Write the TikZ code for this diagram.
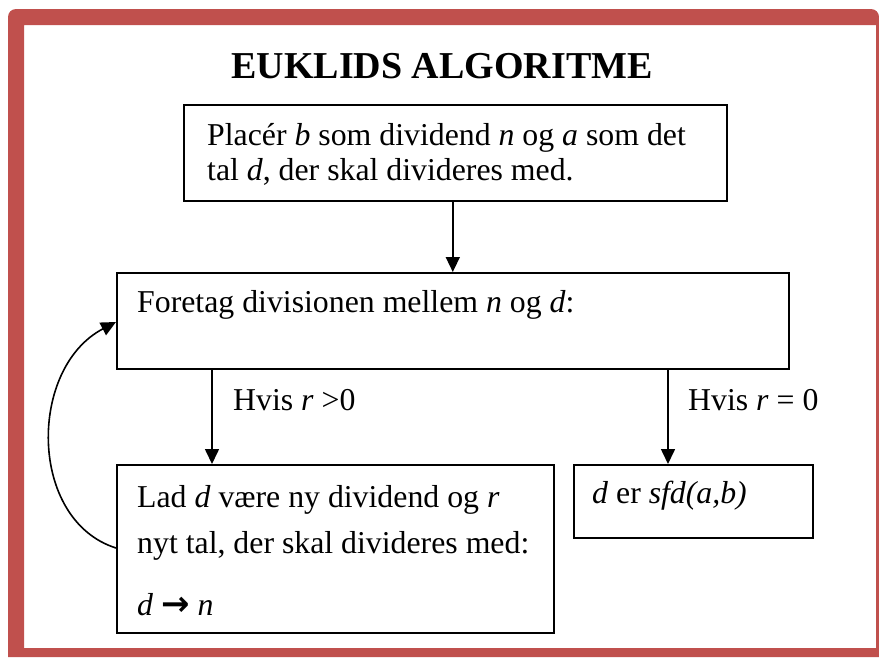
\documentclass[tikz,border=0pt]{standalone}
\usepackage{fontspec}
\setmainfont{Liberation Serif}
\newfontfamily\arrowfont{DejaVu Sans}
\usetikzlibrary{arrows.meta}
\definecolor{framered}{HTML}{C0504D}
\tikzset{
  box/.style={draw=black, line width=1.6pt, inner sep=0pt, anchor=north west},
  txt/.style={anchor=base west, inner sep=0pt, font=\fontsize{31.8}{36}\selectfont},
  arr/.style={line width=1.6pt, -{Triangle[length=15pt,width=14pt]}}
}
\begin{document}
\begin{tikzpicture}[x=1pt,y=-1pt]
\useasboundingbox (0,0) rectangle (879,657);
% frame
\fill[framered, even odd rule] [rounded corners=8pt] (8,657) -- (8,9) -- (879,9) [sharp corners] -- (879,657) -- cycle (24,25) rectangle (876,648);
% title
\node[anchor=base, inner sep=0pt, font=\fontsize{38}{44}\selectfont\bfseries] (title) at (442,78) {EUKLIDS ALGORITME};
% boxes
\node[box, minimum width=543pt, minimum height=96pt] (b1) at (183,104) {};
\node[box, minimum width=672pt, minimum height=96pt] (b2) at (116,272) {};
\node[box, minimum width=437pt, minimum height=168pt] (b3) at (116,464) {};
\node[box, minimum width=239pt, minimum height=73pt] (b4) at (573,464) {};
% texts
\node[txt] (t1a) at (207,145) {Placér \textit{b} som dividend \textit{n} og \textit{a} som det};
\node[txt] (t1b) at (207,180) {tal \textit{d}, der skal divideres med.};
\node[txt] (t2) at (137,312) {Foretag divisionen mellem \textit{n} og \textit{d}:};
\node[txt] (t3a) at (137,507) {Lad \textit{d} være ny dividend og \textit{r}};
\node[txt] (t3b) at (137,553) {nyt tal, der skal divideres med:};
\node[txt] (t3c) at (137,615) {\textit{d} {\arrowfont\bfseries\fontsize{34}{36}\selectfont →} \textit{n}};
\node[txt] (t4) at (592,503) {\textit{d} er \textit{sfd(a,b)}};
\node[txt] (l1) at (233,410) {Hvis \textit{r} >0};
\node[txt] (l2) at (688,410) {Hvis \textit{r} = 0};
% connectors
\coordinate (c2) at (212,0);
\coordinate (c3) at (668,0);
\draw[arr] (b1.south -| b2.north) -- (b2.north);
\draw[arr] (b2.south -| c2) -- (b3.north -| c2);
\draw[arr] (b2.south -| c3) -- (b4.north -| c3);
\coordinate (s3) at (116,548);
\coordinate (e2) at (116,322);
\draw[arr] (s3) .. controls (28,520) and (28,368) .. (e2);
\end{tikzpicture}
\end{document}
